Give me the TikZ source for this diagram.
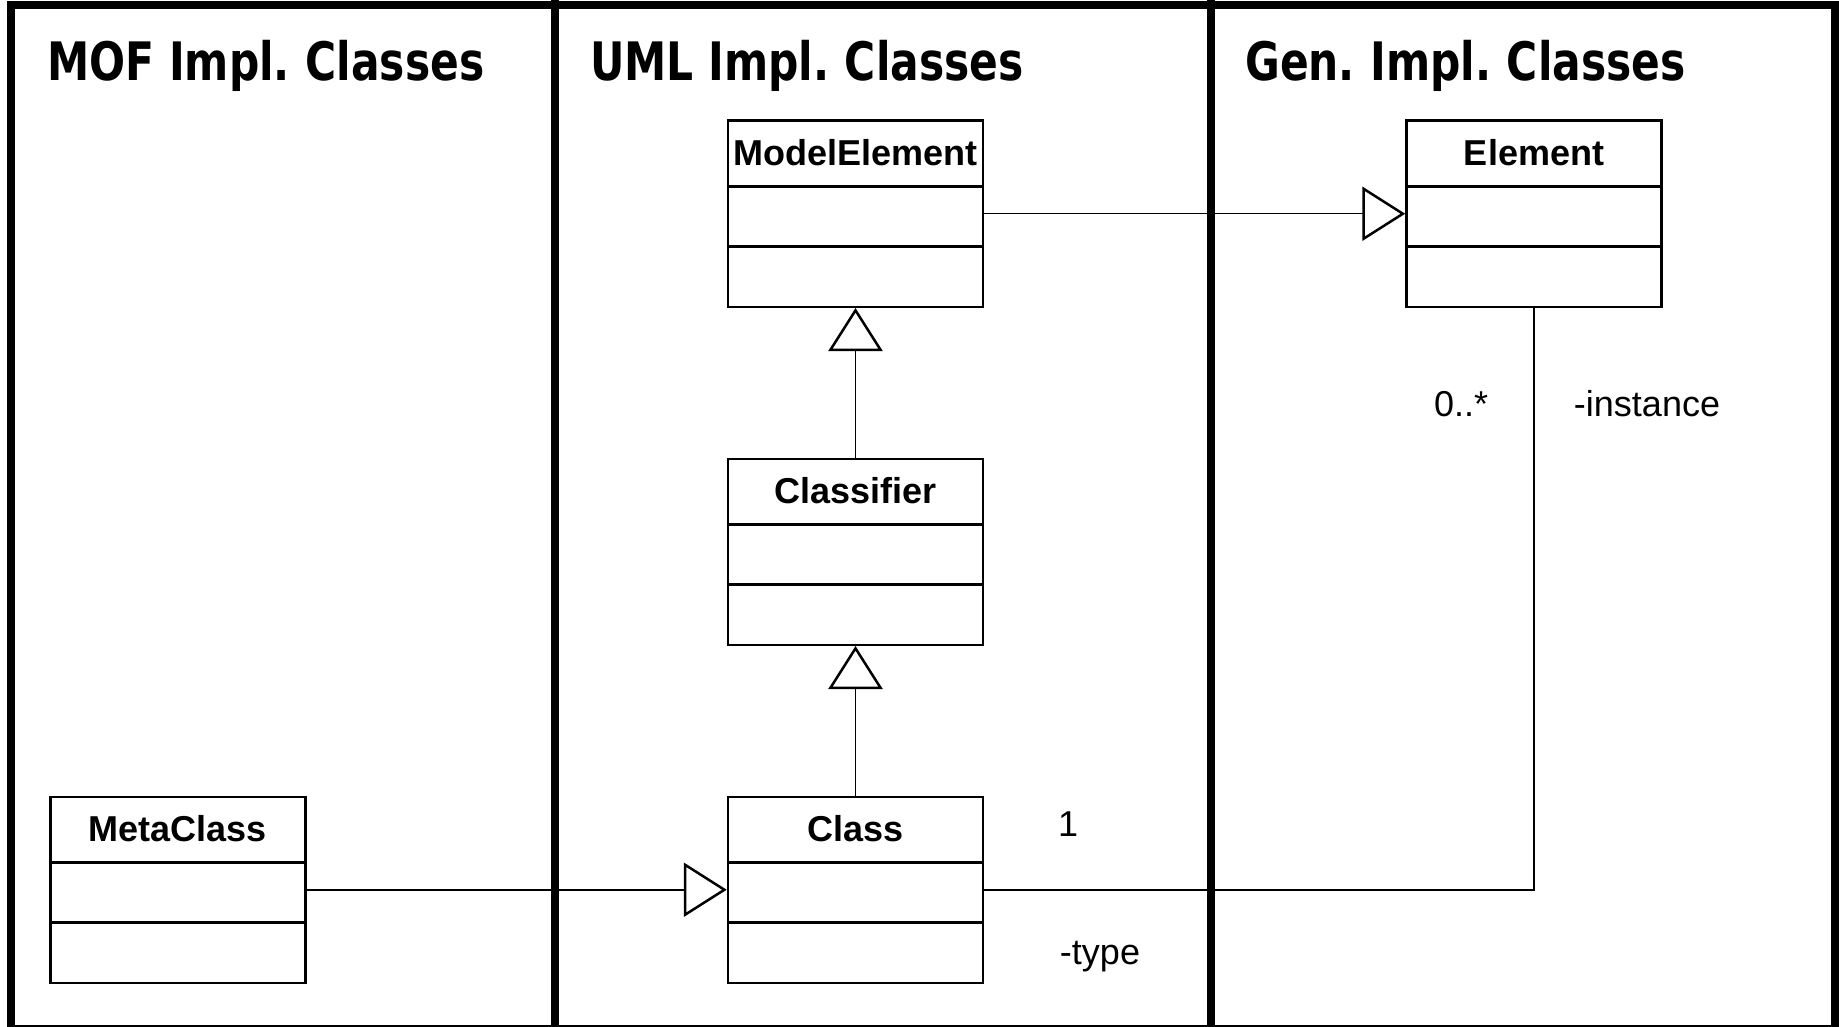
\documentclass[tikz,border=0pt]{standalone}
\usepackage{fontspec}
\setmainfont{Liberation Sans}
\newfontfamily\titlefont[FakeStretch=0.8]{DejaVu Sans}
\usetikzlibrary{arrows.meta,calc}
\tikzset{
  frameline/.style={line width=8pt, line cap=rect},
  classbox/.style={draw, line width=2.5pt, minimum width=255pt, minimum height=186pt, inner sep=0pt, fill=white, anchor=north},
  sepline/.style={line width=2.5pt},
  classname/.style={font=\bfseries\fontsize{36}{40}\selectfont, anchor=base, inner sep=0pt},
  lbl/.style={font=\fontsize{36}{40}\selectfont, anchor=base, inner sep=0pt},
  title/.style={font=\titlefont\bfseries\fontsize{53}{60}\selectfont, anchor=base west, inner sep=0pt},
  gen/.style={line width=1.5pt, -{Triangle[length=43pt, width=54pt, fill=white, line width'=2.5pt]}},
  assoc/.style={line width=1.5pt}
}
\newcommand\umlclass[4]{%
  \node[classbox] (#1) at (#2,#3) {};
  \draw[sepline] ($(#1.north west)+(0,67)$) -- ($(#1.north east)+(0,67)$);
  \draw[sepline] ($(#1.north west)+(0,127)$) -- ($(#1.north east)+(0,127)$);
  \node[classname] (#1-name) at ($(#1.north)+(0,46)$) {#4};
}
\begin{document}
\begin{tikzpicture}[x=1pt, y=-1pt]
\useasboundingbox (0,0) rectangle (1839,1027);
\clip (0,0) rectangle (1839,1027);
\fill[white] (0,0) rectangle (1839,1027);
% frame and swimlanes
\draw[frameline] (11,5.5) rectangle (1834.5,1029);
\draw[frameline] (555,0) -- (555,1030);
\draw[frameline] (1211,0) -- (1211,1030);
% titles
\node[title] (t1) at (47,81) {MOF Impl.\kern-0.08em{} Classes};
\node[title] (t2) at (590,81) {UML Impl.\kern-0.08em{} Classes};
\node[title] (t3) at (1245,81) {Gen.\kern-0.08em{} Impl.\kern-0.08em{} Classes};
% classes
\umlclass{me}{855.5}{119.5}{ModelElement}
\umlclass{cf}{855.5}{457.5}{Classifier}
\umlclass{cl}{855.5}{795.5}{Class}
\umlclass{mc}{178}{795.5}{MetaClass}
\umlclass{el}{1534}{119.5}{Element}
% connectors
\draw[gen] (me.east) -- (el.west);
\draw[gen] (cf.north) -- (me.south);
\draw[gen] (cl.north) -- (cf.south);
\draw[gen] (mc.east) -- (cl.west);
\draw[assoc] (cl.east) -| (el.south);
% labels
\node[lbl] (m1) at (1068,836) {1};
\node[lbl] (r1) at (1100,964) {-type};
\node[lbl] (m2) at (1461,416) {0..*};
\node[lbl] (r2) at (1647,416) {-instance};
\end{tikzpicture}
\end{document}
